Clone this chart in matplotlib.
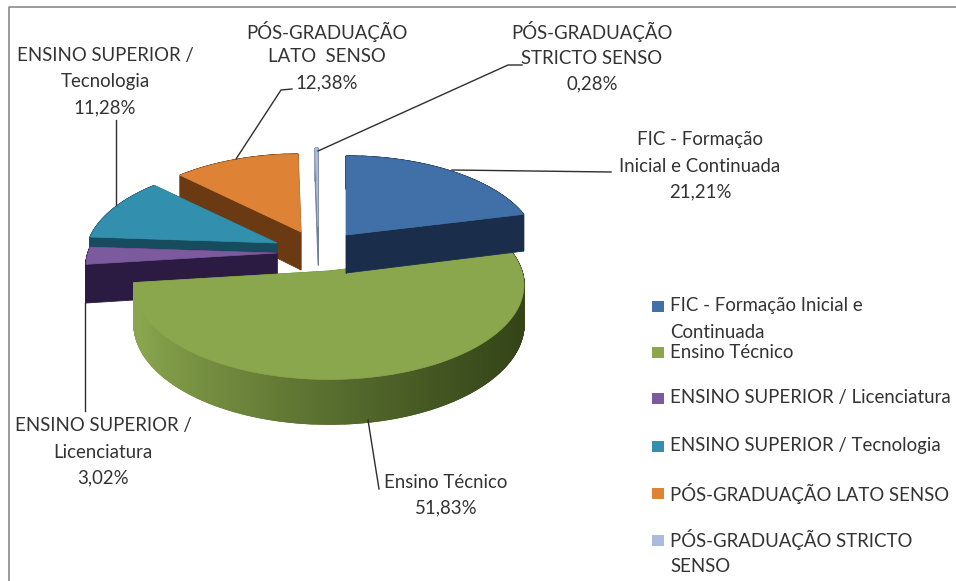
import numpy as np
import matplotlib
matplotlib.use("Agg")
import matplotlib.pyplot as plt
from matplotlib.colors import to_rgb
from matplotlib.patches import Polygon, Rectangle

plt.rcParams['font.family'] = ['Lato', 'DejaVu Sans']

# --- data ---
categories = ["FIC - Formação Inicial e\nContinuada", "Ensino Técnico",
              "ENSINO SUPERIOR / Licenciatura", "ENSINO SUPERIOR / Tecnologia",
              "PÓS-GRADUAÇÃO LATO SENSO", "PÓS-GRADUAÇÃO STRICTO\nSENSO"]
values = [21.21, 51.83, 3.02, 11.28, 12.38, 0.28]
value_labels = ["21,21%", "51,83%", "3,02%", "11,28%", "12,38%", "0,28%"]
data_label_names = ["FIC - Formação\nInicial e Continuada", "Ensino Técnico",
                    "ENSINO SUPERIOR /\nLicenciatura", "ENSINO SUPERIOR /\nTecnologia",
                    "PÓS-GRADUAÇÃO\nLATO  SENSO", "PÓS-GRADUAÇÃO\nSTRICTO SENSO"]

# --- style / layout ---
top_colors = ["#4170A8", "#8AA74D", "#7B5A9E", "#3290AE", "#DE8236", "#A9BCDE"]
wall_colors = ["#1A2E4C", "#5A7530", "#2B1A42", "#164C5E", "#6C3A12", "#6F7F9C"]
apex = [(346, 235), (329, 271), (277, 253), (277, 243), (301, 232), (318, 227)]
radius = [1.0, 1.02, 1.0, 1.0, 0.985, 1.0]
draw_order = [4, 5, 3, 2, 1, 0]
RX, RY, PERSP, DEPTH = 189, 90.5, 0.146, 38
label_xy = [(700, 140), (446, 482), (103, 426), (105, 56), (327, 31), (592, 32)]
leaders = [[(452, 170), (611, 172)],
           [(368, 420), (379, 489)],
           [(85, 303), (85, 411)],
           [(116, 120), (116, 205)],
           [(236, 159), (281, 90), (292, 89)],
           [(318, 151), (508, 65), (522, 65)]]
legend_y = [306, 352, 398, 446, 493, 540]
LINE_H = 26
FS = 13.4
TXT = "#333333"

fig = plt.figure(figsize=(9.56, 5.81), dpi=100)
ax = fig.add_axes([0, 0, 1, 1])
ax.set_xlim(0, 956)
ax.set_ylim(581, 0)
ax.axis("off")

ax.plot([9, 9, 956], [581, 7, 7], color="#8a8a8a", lw=1.2, zorder=1)


def project(theta, r, ap, drop=0.0):
    """theta: degrees clockwise from the back of the pie."""
    t = np.radians(theta)
    u, v = r * np.sin(t), r * np.cos(t)
    w = 1 + PERSP * v
    return ap[0] + RX * u / w, ap[1] - RY * v / w + drop / w


def mix(c, d, f):
    c, d = np.array(to_rgb(c)), np.array(to_rgb(d))
    return tuple(c + (d - c) * f)


edges = np.concatenate([[0], np.cumsum(values)]) / sum(values) * 360
z = 5
for i in draw_order:
    a0, a1 = edges[i], edges[i + 1]
    ap, r = apex[i], radius[i]
    th = np.linspace(a0, a1, max(int(a1 - a0) * 6, 4))
    # radial cut faces
    for a in (a0, a1):
        px, py = project(a, r, ap)
        qx, qy = project(a, r, ap, DEPTH)
        ax.add_patch(Polygon([(ap[0], ap[1]), (px, py), (qx, qy), (ap[0], ap[1] + DEPTH)],
                             fc=wall_colors[i], ec=wall_colors[i], lw=0.6, zorder=z))
    # outer wall, shaded segment by segment
    for a, b in zip(th[:-1], th[1:]):
        x0, y0 = project(a, r, ap)
        x1, y1 = project(b, r, ap)
        x2, y2 = project(b, r, ap, DEPTH)
        x3, y3 = project(a, r, ap, DEPTH)
        col = wall_colors[i]
        if i == 1:
            f = (0.5 * (x0 + x1) - (ap[0] - RX)) / (2 * RX)
            col = mix("#8AA64E", "#344518", min(1, max(0, f)) ** 0.8)
        ax.add_patch(Polygon([(x0, y0), (x1, y1), (x2, y2), (x3, y3)],
                             fc=col, ec=col, lw=1.0, zorder=z))
    # top face
    rim = [project(a, r, ap) for a in th]
    ax.add_patch(Polygon([ap] + rim, fc=top_colors[i], ec=top_colors[i], lw=0.5, zorder=z + 0.5))
    z += 1

# leader lines
for pts in leaders:
    xs, ys = zip(*pts)
    ax.plot(xs, ys, color="#2e2e2e", lw=1.0, zorder=20)

# data labels
for name, val, (x, y) in zip(data_label_names, value_labels, label_xy):
    for k, line in enumerate(name.split("\n") + [val]):
        ax.text(x, y + k * LINE_H, line, ha="center", va="center",
                fontsize=FS, color=TXT, zorder=21)

# legend
for cat, col, y in zip(categories, top_colors, legend_y):
    ax.add_patch(Rectangle((652, y - 5), 12, 11, fc=col, ec="none", zorder=21))
    for k, line in enumerate(cat.split("\n")):
        ax.text(670, y + k * LINE_H, line, ha="left", va="center",
                fontsize=FS, color=TXT, zorder=21)

fig.savefig("out.png", dpi=100, facecolor="white")
